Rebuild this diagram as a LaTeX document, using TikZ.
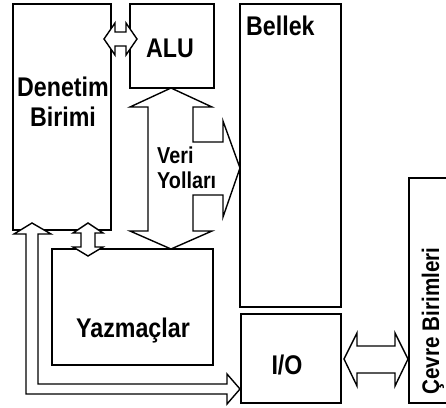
\documentclass[tikz,border=0pt]{standalone}
\usepackage{fontspec}
\newfontfamily\lblfont{Liberation Sans}[FakeStretch=0.86]
\begin{document}
\begin{tikzpicture}[x=1pt,y=-1pt,
  box/.style={draw, line width=1.4pt, rectangle, inner sep=0pt},
  blockarrow/.style={draw, fill=white, line width=1.4pt, line join=miter},
  lbl/.style={font=\lblfont\bfseries\fontsize{27}{30}\selectfont, inner sep=0pt},
  lblsmall/.style={font=\lblfont\bfseries\fontsize{23}{25}\selectfont, inner sep=0pt},
  lblmid/.style={font=\lblfont\bfseries\fontsize{24}{26}\selectfont, inner sep=0pt},
]
\useasboundingbox (0,0) rectangle (446,407);
% boxes
\node[box, minimum width=98pt, minimum height=226pt] (denetim) at (62,117) {};
\node[box, minimum width=84pt, minimum height=84pt] (alu) at (172,46) {};
\node[box, minimum width=101pt, minimum height=303pt] (bellek) at (290.5,155.5) {};
\node[box, minimum width=161pt, minimum height=116pt] (yazmac) at (132.5,307) {};
\node[box, minimum width=100pt, minimum height=89pt] (io) at (291,358.5) {};
\begin{scope}
\clip (0,0) rectangle (446,407);
\node[box, minimum width=61pt, minimum height=225pt] (cevre) at (439.5,290.5) {};
\end{scope}
% labels
\node[lbl, align=center] (denetimtxt) at (63,102) {Denetim\\Birimi};
\node[lbl, anchor=base] (alutxt) at (170,57) {ALU};
\node[lbl, anchor=base west] (bellektxt) at (246,35) {Bellek};
\node[lbl, anchor=base] (yazmactxt) at (133,337) {Yazmaçlar};
\node[lbl, anchor=base] (iotxt) at (287,374) {I/O};
\node[lblmid, anchor=base, rotate=90] (cevretxt) at (439,321) {Çevre Birimleri};
% block arrows
\draw[blockarrow] (104,39) -- (115,23) -- (115,32) -- (126,32) -- (126,23) -- (137,39)
  -- (126,55) -- (126,46) -- (115,46) -- (115,55) -- cycle;
\draw[blockarrow] (88,223) -- (103,233) -- (95,233) -- (95,247) -- (103,247) -- (88,256)
  -- (73,247) -- (81,247) -- (81,233) -- (73,233) -- cycle;
\draw[blockarrow] (171,88) -- (212,107) -- (193,107) -- (193,142) -- (223,142) -- (223,121)
  -- (240,168) -- (223,217) -- (223,195) -- (193,195) -- (193,231) -- (212,231)
  -- (171,249) -- (130,231) -- (148,231) -- (148,107) -- (130,107) -- cycle;
\draw[blockarrow] (32,223) -- (51,234) -- (38,234) -- (38,384) -- (227,384) -- (227,374)
  -- (240,389) -- (227,404) -- (227,394) -- (26,394) -- (26,234) -- (14,234) -- cycle;
\draw[blockarrow] (344,359) -- (357,333) -- (357,346) -- (395,346) -- (395,333) -- (408,359)
  -- (395,386) -- (395,373) -- (357,373) -- (357,386) -- cycle;
\node[lblsmall, align=left, anchor=west] (veritxt) at (157,167.5) {Veri\\Yolları};
\end{tikzpicture}
\end{document}
